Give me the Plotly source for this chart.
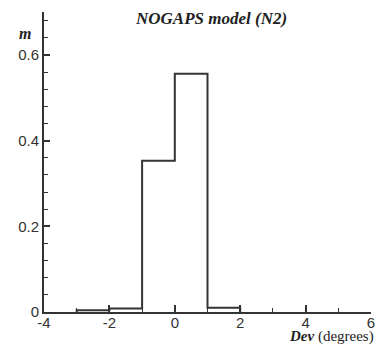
import plotly.graph_objects as go

# Histogram data
bin_edges = [-3, -2, -1, 0, 1, 2]
frequencies = [0.004, 0.008, 0.353, 0.556, 0.01]

x_tickvals = [-4, -2, 0, 2, 4, 6]
x_ticktext = ["-4", "-2", "0", "2", "4", "6"]
y_tickvals = [0, 0.2, 0.4, 0.6]
y_ticktext = ["0", "0.2", "0.4", "0.6"]

title_text = "NOGAPS model (N2)"
y_label = "m"
x_label_bold = "Dev"
x_label_rest = "(degrees)"

# build step outline from the data
xs = [bin_edges[0]]
ys = [0]
for i, v in enumerate(frequencies):
    xs += [bin_edges[i], bin_edges[i + 1]]
    ys += [v, v]
xs.append(bin_edges[-1])
ys.append(0)

line_col = "#333333"

fig = go.Figure()
fig.add_trace(go.Scatter(x=xs, y=ys, mode="lines",
                         line=dict(color=line_col, width=2), hoverinfo="skip"))

tickfont = dict(family="Liberation Sans, Arial, sans-serif", size=15, color="#333333")
serif = "Liberation Serif, Times New Roman, serif"

W, H = 381, 345
L, R, T, B = 44, 6, 12, 33
plot_h = H - T - B

def ypix(p):
    return 1 + (T - p) / plot_h

fig.update_layout(
    width=W, height=H,
    margin=dict(l=L, r=R, t=T, b=B),
    paper_bgcolor="white", plot_bgcolor="white",
    showlegend=False,
    xaxis=dict(range=[-4, 6], tickvals=x_tickvals, ticktext=x_ticktext,
               showgrid=False, zeroline=False,
               showline=True, linecolor=line_col, linewidth=2,
               ticks="inside", ticklen=7, tickwidth=2, tickcolor=line_col,
               ticklabelstandoff=-4,
               minor=dict(dtick=1, tick0=-4, ticks="inside", ticklen=4, tickwidth=1, tickcolor=line_col),
               tickfont=tickfont),
    yaxis=dict(range=[0, 0.7], tickvals=y_tickvals, ticktext=y_ticktext,
               showgrid=False, zeroline=False,
               showline=True, linecolor=line_col, linewidth=2,
               ticks="inside", ticklen=6, tickwidth=2, tickcolor=line_col,
               minor=dict(dtick=0.04, tick0=0, ticks="inside", ticklen=4, tickwidth=1, tickcolor=line_col),
               tickfont=tickfont),
    annotations=[
        dict(text="<b><i>" + title_text + "</i></b>", x=0.51, xref="paper", y=ypix(18), yref="paper",
             yanchor="middle", xanchor="center", showarrow=False,
             font=dict(family=serif, size=17, color="#222222")),
        dict(text="<b><i>" + y_label + "</i></b>", x=-0.035, xref="paper", y=ypix(33), yref="paper",
             xanchor="right", yanchor="middle", showarrow=False,
             font=dict(family=serif, size=16, color="#222222")),
        dict(text="<b><i>" + x_label_bold + "</i></b> " + x_label_rest, x=1.0, xref="paper", y=ypix(336),
             yref="paper", xanchor="right", yanchor="middle", showarrow=False, xshift=5,
             font=dict(family=serif, size=15, color="#222222")),
    ],
)

fig.write_html("out.html")
